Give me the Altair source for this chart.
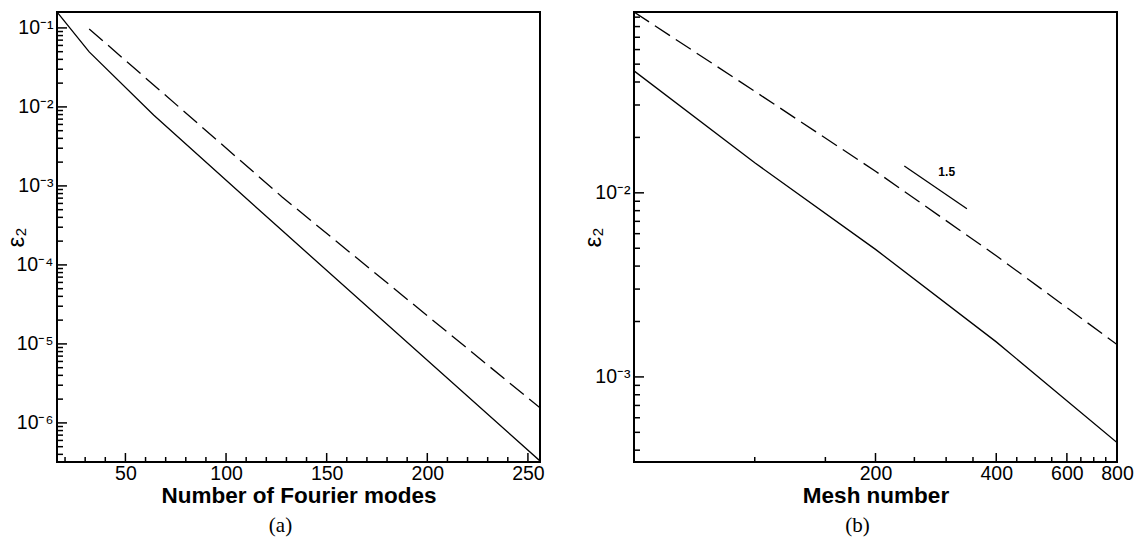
import altair as alt
import pandas as pd

# ---------------- Panel (a): Fourier modes ----------------
fourier_modes_solid = [16, 32, 64, 128, 256]
fourier_err_solid = [0.159, 0.0497, 0.0079, 2.7e-4, 3.3e-7]
fourier_modes_dashed = [32, 64, 128, 256]
fourier_err_dashed = [0.097, 0.019, 7.2e-4, 1.55e-6]
fourier_x_major = [50, 100, 150, 200, 250]
fourier_x_minor = [20, 30, 40, 60, 70, 80, 90, 110, 120, 130, 140, 160, 170, 180, 190,
                   210, 220, 230, 240]
fourier_y_major = [1e-6, 1e-5, 1e-4, 1e-3, 1e-2, 1e-1]
fourier_y_minor = [m * 10.0 ** k for k in [-7, -6, -5, -4, -3, -2] for m in range(2, 10)
                   if 3.2e-7 < m * 10.0 ** k < 0.159]
fourier_x_domain = [16, 256]
fourier_y_domain = [3.2e-7, 0.159]

# ---------------- Panel (b): Mesh number ----------------
mesh_solid = [50, 100, 200, 400, 800]
mesh_err_solid = [0.046, 0.01456, 0.00493, 0.00155, 4.4e-4]
mesh_dashed = [50, 100, 200, 400, 800]
mesh_err_dashed = [0.096, 0.0356, 0.0131, 0.00455, 0.0015]
mesh_x_major = [200, 400, 600, 800]
mesh_x_minor = [100, 150, 250, 300, 350, 450, 500, 550, 650, 700, 750]
mesh_y_major = [1e-3, 1e-2]
mesh_y_minor = [m * 10.0 ** k for k in [-4, -3, -2] for m in range(2, 10)
                if 3.45e-4 < m * 10.0 ** k < 0.096]
mesh_x_domain = [50, 800]
mesh_y_domain = [3.45e-4, 0.096]
slope_x = [236, 338]
slope_y = [0.0140, 0.00819]
slope_text = ["1.5"]
slope_text_x = [301]
slope_text_y = [0.0129]

W, H = 483, 450
LABEL_FONT = "Liberation Sans"
SUP = "['⁰','¹','²','³','⁴','⁵','⁶','⁷','⁸','⁹']"
Y_LABEL_EXPR = "'10⁻' + " + SUP + "[-round(log(datum.value)/LN10)]"
TICK_COLOR = "black"


def make_panel(lines, x_type, x_domain, y_domain, x_major, x_minor, y_major, y_minor,
               x_title, caption, extra=None):
    xs = alt.Scale(type=x_type, domain=x_domain, nice=False, zero=False)
    ys = alt.Scale(type="log", domain=y_domain, nice=False)
    x_axis = alt.Axis(values=x_major, format="d", title=x_title,
                      titleX=W / 2, titleY=40, titleBaseline="alphabetic",
                      labelPadding=2, labelFlush=False, labelOverlap=False)
    y_axis = alt.Axis(values=y_major, labelExpr=Y_LABEL_EXPR, title="ε₂",
                      titleX=-34, titleY=H / 2, titleAngle=270,
                      titleBaseline="alphabetic", titleAlign="center",
                      titleFont=LABEL_FONT, titleFontWeight="normal", titleFontSize=24,
                      labelPadding=4, labelFlush=False, labelOverlap=False)
    X = lambda f: alt.X(f, scale=xs, axis=x_axis)
    Y = lambda f: alt.Y(f, scale=ys, axis=y_axis)
    layers = []
    for xv, yv, dashed in lines:
        df = pd.DataFrame({"x": xv, "y": yv})
        if dashed:
            m = alt.Chart(df).mark_line(color="black", strokeWidth=1.3, clip=True,
                                        strokeDash=[18, 7])
        else:
            m = alt.Chart(df).mark_line(color="black", strokeWidth=1.3, clip=True)
        layers.append(m.encode(x=X("x:Q"), y=Y("y:Q")))
    if extra is not None:
        layers += extra(X, Y)

    def yticks(vals, length):
        return alt.Chart(pd.DataFrame({"v": vals})).mark_rule(
            color=TICK_COLOR, strokeWidth=1.5).encode(
            y=Y("v:Q"), x=alt.value(0), x2=alt.value(length))

    def xticks(vals, length):
        return alt.Chart(pd.DataFrame({"v": vals})).mark_rule(
            color=TICK_COLOR, strokeWidth=1.5).encode(
            x=X("v:Q"), y=alt.value(H), y2=alt.value(H - length))

    layers += [yticks(y_major, 10), yticks(y_minor, 6), xticks(x_major, 9), xticks(x_minor, 5)]
    return alt.layer(*layers).properties(
        width=W, height=H,
        title=alt.TitleParams(caption, orient="bottom", anchor="middle", dx=-18,
                              font="Liberation Serif", fontSize=21, fontWeight="normal",
                              color="black", baseline="top", offset=8),
    )


def slope_extra(X, Y):
    seg = alt.Chart(pd.DataFrame({"x": slope_x, "y": slope_y})).mark_line(
        color="black", strokeWidth=1.3).encode(x=X("x:Q"), y=Y("y:Q"))
    txt = alt.Chart(pd.DataFrame({"x": slope_text_x, "y": slope_text_y, "t": slope_text})).mark_text(
        font=LABEL_FONT, fontSize=12, fontWeight="bold", color="black").encode(
        x=X("x:Q"), y=Y("y:Q"), text="t:N")
    return [seg, txt]


left = make_panel(
    [(fourier_modes_solid, fourier_err_solid, False),
     (fourier_modes_dashed, fourier_err_dashed, True)],
    "linear", fourier_x_domain, fourier_y_domain,
    fourier_x_major, fourier_x_minor, fourier_y_major, fourier_y_minor,
    "Number of Fourier modes", "(a)")

right = make_panel(
    [(mesh_solid, mesh_err_solid, False),
     (mesh_dashed, mesh_err_dashed, True)],
    "log", mesh_x_domain, mesh_y_domain,
    mesh_x_major, mesh_x_minor, mesh_y_major, mesh_y_minor,
    "Mesh number", "(b)", extra=slope_extra)

chart = alt.hconcat(left, right, spacing=94, bounds="flush").properties(
    padding={"left": 3, "top": 11, "right": 5, "bottom": 5}
).configure_view(stroke="black", strokeWidth=2).configure_axis(
    ticks=False, domain=False, grid=False,
    labelFont=LABEL_FONT, labelFontSize=19.5, labelColor="black",
    titleFont=LABEL_FONT, titleFontSize=22.5, titleFontWeight="bold", titleColor="black",
)

chart.save("out.html", embed_options={"renderer": "svg", "actions": False})
